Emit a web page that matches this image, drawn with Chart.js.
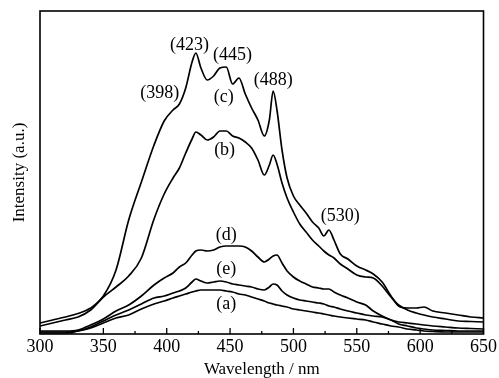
<!DOCTYPE html>
<html>
<head>
<meta charset="utf-8">
<script src="https://cdn.jsdelivr.net/npm/chart.js@4.4.1/dist/chart.umd.min.js"></script>
<style>
  body { margin: 0; background: #fff; }
  canvas { display: block; }
</style>
</head>
<body>
<canvas id="myChart" width="499" height="378"></canvas>
<script>
// wavelength grid (nm)
const wavelengths = [300, 310, 320, 330, 340, 350, 360, 370, 380, 390, 398, 405, 410, 415, 420, 423, 427, 432, 437, 442, 447, 452, 457, 462, 467, 472, 477, 481, 484, 487, 491, 495, 500, 505, 510, 515, 520, 524, 528, 532, 537, 543, 550, 557, 563, 570, 577, 583, 590, 597, 603, 610, 620, 630, 640, 650];

// intensities (a.u.)
const curveA = [1, 1, 1, 3, 6, 11, 16, 19, 25, 30, 33, 36, 38, 40, 42, 43, 44, 44, 44, 44, 43, 42, 40, 39, 37, 35, 33, 31, 30, 29, 28, 27, 25, 24, 23, 22, 21, 20, 19, 18, 17, 16, 15, 14, 12, 10, 8, 7, 5, 4, 3, 2.5, 2, 2, 2, 2];
const curveB = [8, 11, 14, 17, 24, 37, 47, 58, 76, 115, 140, 156, 166, 181, 195, 202, 199, 194, 197, 203, 203, 198, 196, 192, 186, 174, 159, 169, 179, 170, 151, 136, 122, 110, 102, 94, 88, 83, 79, 76, 70, 65, 59, 57, 56, 48, 37, 29, 24, 21, 19, 17, 15, 13, 12.5, 12];
const curveC = [11, 14, 17, 20.5, 26, 38, 64, 114, 152, 189, 213, 224, 230, 246, 272, 281, 266, 254, 258, 266, 267, 250, 256, 240, 226, 214, 198, 214, 243, 224, 184, 156, 138, 129, 121, 112, 106, 98, 104, 94, 80, 75, 68, 64, 60, 52, 38, 28, 26, 26, 27, 23, 21, 19, 17, 16];
const curveD = [3, 3, 3, 4, 9, 15, 23, 29, 38, 49, 56, 61, 67, 71, 79, 83, 84, 83, 84, 87, 88, 88, 88, 87, 83, 77, 72, 75, 78, 79, 71, 63, 57, 53, 50, 47, 46, 45, 45, 42, 39, 36, 32, 29, 23, 18, 14, 12, 11, 10, 9, 8, 7, 6, 5.5, 5];
const curveE = [2, 2, 2, 3, 7, 13, 19, 24, 30, 36, 38, 41, 43, 46, 52, 55, 53, 51, 52, 53, 52, 50, 49, 48, 47, 45, 44, 47, 50, 49, 43, 39, 36, 34, 33, 32, 31, 30, 28, 27, 25, 23, 21, 19, 18, 17, 14, 10, 8, 6, 5, 4, 3.5, 3, 3, 3];

// text labels on the plot: [text, wavelength, intensity]
const peakLabels = [
  ["(423)", 418, 289],
  ["(445)", 452, 279],
  ["(398)", 394.5, 241],
  ["(488)", 484, 254],
  ["(530)", 537, 118],
  ["(c)", 445, 237],
  ["(b)", 445.7, 184],
  ["(d)", 447, 99],
  ["(e)", 447, 65],
  ["(a)", 447, 30],
];

const serif = "'Liberation Serif', 'Times New Roman', serif";

function series(values) {
  return {
    data: values.map((v, i) => ({ x: wavelengths[i], y: v })),
    borderColor: "#000",
    borderWidth: 1.7,
    pointRadius: 0,
    fill: false,
    cubicInterpolationMode: "monotone",
  };
}

// frame, inner ticks on the x axis and the peak labels
const decorations = {
  id: "decorations",
  afterDraw(chart) {
    const { ctx, chartArea: a, scales } = chart;
    ctx.save();
    ctx.strokeStyle = "#000";
    ctx.lineWidth = 1.6;
    ctx.strokeRect(a.left, a.top, a.right - a.left, a.bottom - a.top);
    ctx.lineWidth = 1.3;
    for (let w = 300; w <= 650; w += 25) {
      const x = scales.x.getPixelForValue(w);
      const len = w % 50 === 0 ? 6 : 3;
      ctx.beginPath();
      ctx.moveTo(x, a.bottom);
      ctx.lineTo(x, a.bottom - len);
      ctx.stroke();
    }
    ctx.fillStyle = "#000";
    ctx.font = "18px " + serif;
    ctx.textAlign = "center";
    ctx.textBaseline = "middle";
    peakLabels.forEach(([t, w, v]) => {
      ctx.fillText(t, scales.x.getPixelForValue(w), scales.y.getPixelForValue(v));
    });
    ctx.restore();
  },
};

const ctx = document.getElementById("myChart").getContext("2d");
const myChart = new Chart(ctx, {
  type: "line",
  data: {
    datasets: [curveA, curveB, curveC, curveD, curveE].map(series),
  },
  options: {
    responsive: false,
    animation: false,
    devicePixelRatio: 1,
    layout: { padding: { top: 11, right: 14, left: 0, bottom: 0 } },
    plugins: {
      legend: { display: false },
      tooltip: { enabled: false },
    },
    scales: {
      x: {
        type: "linear",
        min: 300,
        max: 650,
        grid: { display: false, drawTicks: false },
        border: { display: false },
        ticks: {
          stepSize: 50,
          color: "#000",
          padding: 2,
          maxRotation: 0,
          font: { family: serif, size: 18 },
        },
        title: {
          display: true,
          text: "Wavelength / nm",
          color: "#000",
          padding: 0,
          font: { family: serif, size: 17, lineHeight: 1 },
        },
        afterFit: (scale) => { scale.height = 44; },
      },
      y: {
        min: 0,
        max: 323,
        grid: { display: false, drawTicks: false },
        border: { display: false },
        ticks: { display: false },
        title: {
          display: true,
          text: "Intensity (a.u.)",
          color: "#000",
          padding: { top: 9, bottom: 0 },
          font: { family: serif, size: 17 },
        },
        afterFit: (scale) => { scale.width = 40; },
      },
    },
  },
  plugins: [decorations],
});
</script>
</body>
</html>
